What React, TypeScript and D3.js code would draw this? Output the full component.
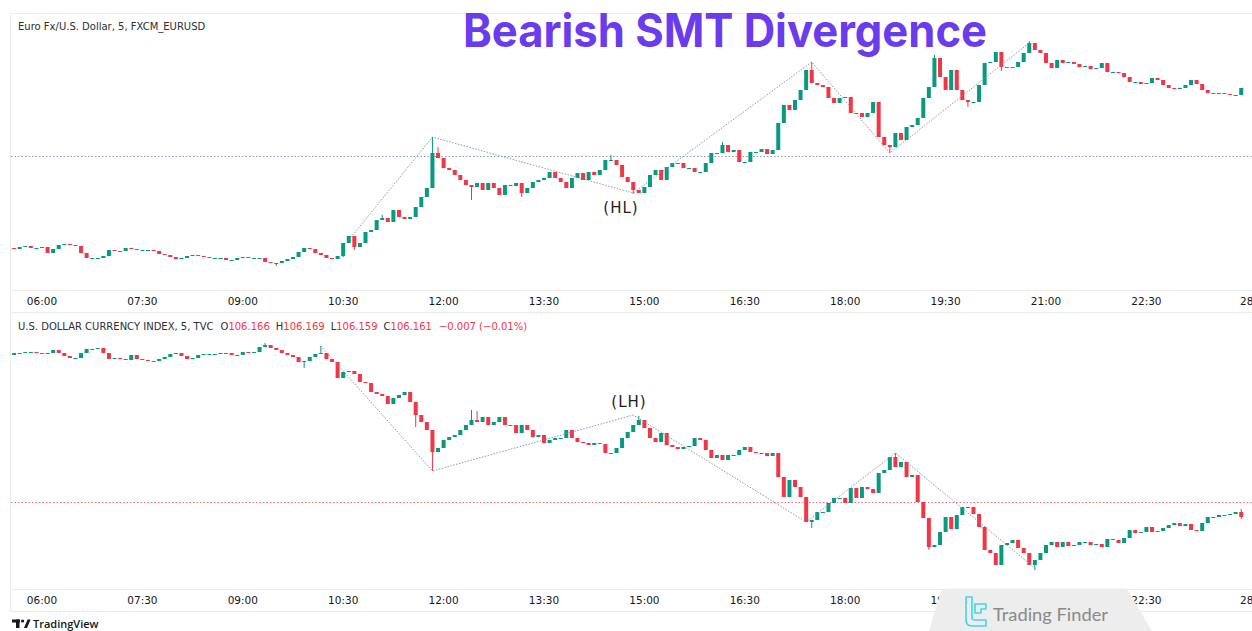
import React from "react";
import * as d3 from "d3";

// ---------- data ----------
const SESSION_DAY = [2024, 10, 27];
const FIRST_CANDLE = "05:35";
const CANDLE_MINUTES = 5;

const TIME_TICK_LABELS = ["06:00", "07:30", "09:00", "10:30", "12:00", "13:30", "15:00", "16:30", "18:00", "19:30", "21:00", "22:30", "28"];

// EUR/USD 5m closes (FXCM)
const EUR_FIRST_OPEN = 1.05908;
const EUR_CLOSE = [
  1.05907, 1.05909, 1.05910, 1.05908, 1.05908, 1.05909, 1.05903, 1.05907, 1.05911, 1.05912,
  1.05911, 1.05910, 1.05903, 1.05898, 1.05898, 1.05898, 1.05900, 1.05906, 1.05905, 1.05905,
  1.05908, 1.05907, 1.05906, 1.05906, 1.05906, 1.05905, 1.05902, 1.05901, 1.05899, 1.05897,
  1.05898, 1.05900, 1.05901, 1.05900, 1.05899, 1.05898, 1.05898, 1.05898, 1.05896, 1.05896,
  1.05898, 1.05899, 1.05898, 1.05898, 1.05898, 1.05894, 1.05893, 1.05893, 1.05895, 1.05897,
  1.05899, 1.05904, 1.05908, 1.05907, 1.05903, 1.05901, 1.05898, 1.05897, 1.05900, 1.05913,
  1.05920, 1.05909, 1.05913, 1.05924, 1.05926, 1.05936, 1.05938, 1.05934, 1.05946, 1.05939,
  1.05937, 1.05939, 1.05949, 1.05959, 1.05968, 1.06003, 1.05998, 1.05988, 1.05986, 1.05981,
  1.05976, 1.05971, 1.05969, 1.05973, 1.05966, 1.05973, 1.05968, 1.05961, 1.05971, 1.05970,
  1.05973, 1.05963, 1.05968, 1.05974, 1.05976, 1.05978, 1.05984, 1.05978, 1.05974, 1.05968,
  1.05978, 1.05983, 1.05976, 1.05984, 1.05981, 1.05986, 1.05996, 1.05996, 1.05991, 1.05979,
  1.05974, 1.05966, 1.05963, 1.05969, 1.05981, 1.05986, 1.05976, 1.05989, 1.05993, 1.05993,
  1.05988, 1.05988, 1.05984, 1.05984, 1.05993, 1.06003, 1.06003, 1.06011, 1.06004, 1.06006,
  1.05994, 1.05994, 1.06004, 1.06004, 1.06007, 1.06002, 1.06006, 1.06033, 1.06051, 1.06046,
  1.06056, 1.06066, 1.06086, 1.06073, 1.06071, 1.06069, 1.06058, 1.06053, 1.06058, 1.06059,
  1.06043, 1.06043, 1.06039, 1.06043, 1.06054, 1.06019, 1.06011, 1.06009, 1.06023, 1.06016,
  1.06029, 1.06031, 1.06038, 1.06058, 1.06069, 1.06098, 1.06079, 1.06066, 1.06086, 1.06066,
  1.06056, 1.06054, 1.06054, 1.06071, 1.06093, 1.06094, 1.06104, 1.06089, 1.06088, 1.06089,
  1.06094, 1.06103, 1.06113, 1.06106, 1.06103, 1.06093, 1.06088, 1.06096, 1.06093, 1.06094,
  1.06092, 1.06089, 1.06090, 1.06087, 1.06088, 1.06093, 1.06084, 1.06084, 1.06083, 1.06079,
  1.06074, 1.06074, 1.06072, 1.06073, 1.06078, 1.06076, 1.06071, 1.06068, 1.06067, 1.06068,
  1.06071, 1.06076, 1.06072, 1.06066, 1.06063, 1.06063, 1.06063, 1.06062, 1.06061, 1.06061, 1.06068,
];
// notable wicks: [candle index, price]
const EUR_HIGHS = [[66, 1.05941], [75, 1.06019], [76, 1.06009], [107, 1.06001], [127, 1.06014], [143, 1.06094], [165, 1.06101], [182, 1.06115]];
const EUR_LOWS = [[47, 1.0589], [59, 1.05899], [61, 1.05906], [82, 1.05956], [91, 1.05959], [111, 1.05962], [157, 1.06003], [171, 1.06049], [177, 1.06085]];
const EUR_PIVOTS = [["10:35", 1.05916], ["11:50", 1.06019], ["14:50", 1.05963], ["17:30", 1.06094], ["18:40", 1.06003], ["20:45", 1.06113]];
const EUR_LEVEL = 1.06;

// U.S. Dollar Currency Index 5m closes (TVC)
const DXY_FIRST_OPEN = 106.323;
const DXY_CLOSE = [
  106.325, 106.325, 106.326, 106.326, 106.325, 106.324, 106.325, 106.328, 106.325, 106.322,
  106.320, 106.320, 106.325, 106.329, 106.329, 106.330, 106.325, 106.319, 106.320, 106.319,
  106.318, 106.323, 106.319, 106.318, 106.317, 106.317, 106.319, 106.321, 106.324, 106.325,
  106.322, 106.319, 106.320, 106.323, 106.324, 106.324, 106.324, 106.325, 106.325, 106.323,
  106.323, 106.326, 106.325, 106.326, 106.331, 106.333, 106.330, 106.328, 106.325, 106.323,
  106.321, 106.316, 106.317, 106.321, 106.324, 106.325, 106.319, 106.316, 106.300, 106.306,
  106.307, 106.304, 106.296, 106.295, 106.286, 106.284, 106.282, 106.274, 106.280, 106.283,
  106.286, 106.276, 106.263, 106.256, 106.248, 106.226, 106.230, 106.238, 106.241, 106.243,
  106.248, 106.253, 106.258, 106.256, 106.261, 106.253, 106.256, 106.261, 106.253, 106.253,
  106.245, 106.253, 106.248, 106.241, 106.243, 106.235, 106.238, 106.240, 106.240, 106.248,
  106.240, 106.236, 106.235, 106.233, 106.235, 106.234, 106.225, 106.225, 106.230, 106.240,
  106.246, 106.253, 106.258, 106.250, 106.240, 106.236, 106.245, 106.233, 106.231, 106.229,
  106.231, 106.232, 106.240, 106.238, 106.228, 106.220, 106.223, 106.218, 106.223, 106.223,
  106.228, 106.231, 106.226, 106.225, 106.225, 106.222, 106.225, 106.201, 106.181, 106.198,
  106.191, 106.181, 106.156, 106.158, 106.166, 106.166, 106.175, 106.180, 106.180, 106.175,
  106.190, 106.180, 106.191, 106.189, 106.185, 106.205, 106.208, 106.221, 106.211, 106.216,
  106.201, 106.203, 106.176, 106.160, 106.131, 106.133, 106.146, 106.161, 106.149, 106.163,
  106.171, 106.171, 106.164, 106.151, 106.128, 106.125, 106.113, 106.133, 106.135, 106.138,
  106.130, 106.125, 106.113, 106.118, 106.125, 106.133, 106.136, 106.131, 106.136, 106.132,
  106.133, 106.136, 106.136, 106.133, 106.134, 106.131, 106.139, 106.138, 106.135, 106.140,
  106.148, 106.145, 106.146, 106.151, 106.146, 106.147, 106.150, 106.153, 106.155, 106.152,
  106.154, 106.148, 106.147, 106.155, 106.161, 106.161, 106.163, 106.163, 106.164, 106.166, 106.161,
];
const DXY_HIGHS = [[45, 106.335], [55, 106.332], [82, 106.268], [83, 106.267], [112, 106.262], [158, 106.225], [220, 106.169]];
const DXY_LOWS = [[52, 106.31], [72, 106.251], [75, 106.207], [143, 106.15], [164, 106.128], [183, 106.108], [220, 106.159]];
const DXY_PIVOTS = [["10:10", 106.332], ["11:50", 106.207], ["14:50", 106.263], ["17:25", 106.156], ["18:45", 106.225], ["20:50", 106.11]];
const DXY_LEVEL = 106.176;

const DXY_LEGEND = [
  { k: "O", v: "106.166" },
  { k: "H", v: "106.169" },
  { k: "L", v: "106.159" },
  { k: "C", v: "106.161" },
];
const DXY_CHANGE = "\u22120.007 (\u22120.01%)";

// ---------- helpers ----------
const UP = "#089981";
const DOWN = "#F23645";
const AXIS_FONT = "'DejaVu Sans', Verdana, sans-serif";

function buildCandles(firstOpen: number, closes: number[], highs: number[][], lows: number[][]) {
  const hi = new Map(highs.map((d) => [d[0], d[1]]));
  const lo = new Map(lows.map((d) => [d[0], d[1]]));
  return closes.map((c, k) => {
    const o = k === 0 ? firstOpen : closes[k - 1];
    const h = Math.max(o, c, hi.get(k) ?? -Infinity);
    const l = Math.min(o, c, lo.get(k) ?? Infinity);
    return { k, o, h, l, c };
  });
}

function Panel({ candles, x, y, timeAt, pivots, level, levelColor, clipId }: any) {
  const pivotLine = d3
    .line<any>()
    .x((d) => x(timeAt(d[0])))
    .y((d) => y(d[1]));
  return (
    <g clipPath={`url(#${clipId})`}>
      <line x1={11} x2={1252} y1={Math.round(y(level)) + 0.5} y2={Math.round(y(level)) + 0.5} stroke={levelColor} strokeWidth={1} strokeDasharray="1.5 2" />
      {candles.map((d: any) => {
        const cx = x(d.t);
        const up = d.c >= d.o;
        const col = up ? UP : DOWN;
        const y1 = y(Math.max(d.o, d.c));
        const y2 = y(Math.min(d.o, d.c));
        return (
          <g key={d.k}>
            <line x1={cx} x2={cx} y1={y(d.h)} y2={y(d.l)} stroke={col} strokeWidth={1} />
            <rect x={cx - 2} y={y1} width={4} height={Math.max(1, y2 - y1)} fill={col} />
          </g>
        );
      })}
      <path d={pivotLine(pivots) || ""} fill="none" stroke="#7d8cab" strokeWidth={0.9} strokeDasharray="1.5 1.5" />
    </g>
  );
}

export default function App() {
  const W = 1252;
  const H = 631;
  const [Y, M, D] = SESSION_DAY;
  const parseHM = (s: string) => {
    const [hh, mm] = s.split(":").map(Number);
    return new Date(Y, M, D, hh, mm);
  };
  const t0 = parseHM("06:00");
  const tEnd = d3.timeDay.offset(new Date(Y, M, D), 1);
  const x = d3.scaleTime().domain([t0, tEnd]).range([42, 1246.8]);
  const start = parseHM(FIRST_CANDLE);
  const candleTime = (k: number) => d3.timeMinute.offset(start, k * CANDLE_MINUTES);

  const eur = buildCandles(EUR_FIRST_OPEN, EUR_CLOSE, EUR_HIGHS, EUR_LOWS).map((d) => ({ ...d, t: candleTime(d.k) }));
  const dxy = buildCandles(DXY_FIRST_OPEN, DXY_CLOSE, DXY_HIGHS, DXY_LOWS).map((d) => ({ ...d, t: candleTime(d.k) }));

  const yEur = d3.scaleLinear().domain([1.05866, 1.06141]).range([290, 15]);
  const yDxy = d3.scaleLinear().domain([106.088, 106.343]).range([590, 335]);

  const tickTimes = TIME_TICK_LABELS.map((lab, j) => ({ lab, t: d3.timeMinute.offset(t0, j * 90) }));

  const axisLabels = (yy: number) =>
    tickTimes.map((d) => (
      <text key={d.lab + yy} x={x(d.t)} y={yy} textAnchor="middle" fontSize={10.5} fontFamily={AXIS_FONT} fill="#131722">
        {d.lab}
      </text>
    ));

  return (
    <svg width={W} height={H} style={{ position: "absolute", left: 0, top: 0, background: "#fff" }}>
      <defs>
        <clipPath id="clipTop">
          <rect x={11} y={14} width={1241} height={276} />
        </clipPath>
        <clipPath id="clipBot">
          <rect x={11} y={313} width={1241} height={276} />
        </clipPath>
      </defs>
      <rect x={0} y={0} width={W} height={H} fill="#fff" />
      {/* frame */}
      <g stroke="#ebebeb" strokeWidth={1} fill="none">
        <line x1={10} x2={1252} y1={13.5} y2={13.5} />
        <line x1={10.5} x2={10.5} y1={13} y2={611} />
        <line x1={10} x2={1252} y1={290.5} y2={290.5} />
        <line x1={10} x2={1252} y1={312.5} y2={312.5} />
        <line x1={10} x2={1252} y1={589.5} y2={589.5} />
        <line x1={10} x2={1252} y1={611.5} y2={611.5} />
      </g>

      <Panel candles={eur} x={x} y={yEur} timeAt={parseHM} pivots={EUR_PIVOTS} level={EUR_LEVEL} levelColor="#8f9bb3" clipId="clipTop" />
      <Panel candles={dxy} x={x} y={yDxy} timeAt={parseHM} pivots={DXY_PIVOTS} level={DXY_LEVEL} levelColor="#f0707e" clipId="clipBot" />

      {/* headers */}
      <text x={18} y={29.5} fontSize={10} fontFamily={AXIS_FONT} fill="#2a2e39">
        Euro Fx/U.S. Dollar, 5, FXCM_EURUSD
      </text>
      <text x={18} y={330} fontSize={10} fontFamily={AXIS_FONT} fill="#2a2e39">
        <tspan>U.S. DOLLAR CURRENCY INDEX, 5, TVC</tspan>
        {DXY_LEGEND.map((d, i) => (
          <React.Fragment key={d.k}>
            <tspan dx={i === 0 ? 7 : 6} fill="#2a2e39">{d.k}</tspan>
            <tspan fill={DOWN}>{d.v}</tspan>
          </React.Fragment>
        ))}
        <tspan dx={7} fill={DOWN}>{DXY_CHANGE}</tspan>
      </text>

      {/* annotations */}
      <text x={621} y={213} textAnchor="middle" fontSize={15} letterSpacing={1} fontFamily={AXIS_FONT} fill="#1e1e1e">(HL)</text>
      <text x={629} y={407} textAnchor="middle" fontSize={15} letterSpacing={1} fontFamily={AXIS_FONT} fill="#1e1e1e">(LH)</text>

      {/* time axes */}
      {axisLabels(304.5)}
      {axisLabels(604)}

      {/* title */}
      <text x={725} y={47} textAnchor="middle" fontSize={46} fontWeight={700} fontFamily="Inter, 'Open Sans', sans-serif" fill="#6B3BEE" textLength={524} lengthAdjust="spacingAndGlyphs">
        Bearish SMT Divergence
      </text>

      {/* TradingView logo */}
      <g fill="#131722">
        <rect x={12} y={619.5} width={8} height={3} />
        <rect x={16} y={619.5} width={3.5} height={8.5} />
        <circle cx={22.6} cy={621} r={1.6} />
        <polygon points="24,628 27.6,619.5 30.6,619.5 27,628" />
      </g>
      <text x={33} y={628} fontSize={11} fontFamily="'Open Sans', sans-serif" fontWeight={600} fill="#131722">TradingView</text>

      {/* Trading Finder watermark */}
      <path d="M929,631 L940,594 Q942,588.5 948,588.5 L1122,588.5 Q1128,588.5 1130,594 L1152,631 Z" fill="#ededed" />
      <g fill="none" stroke="#43d5e6" strokeWidth={1.6} strokeLinejoin="round">
        <path d="M966,597 h6 v20 q0,3 3,3 h11 v6 h-14 q-6,0 -6,-6 Z" />
        <path d="M975,604 h11 v5 h-5 v4 h-6 Z" />
      </g>
      <text x={993} y={621} fontSize={17} fontFamily="Lato, 'Open Sans', sans-serif" fill="#8a8a8a" textLength={115} lengthAdjust="spacingAndGlyphs">
        Trading Finder
      </text>
    </svg>
  );
}
